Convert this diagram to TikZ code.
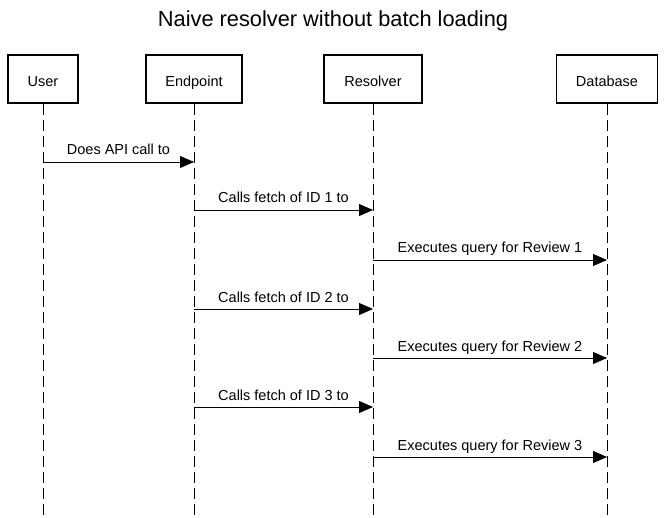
\documentclass[tikz,border=0pt]{standalone}
\usepackage{fontspec}
\setmainfont{Liberation Sans}
\usetikzlibrary{arrows.meta}
\begin{document}
\begin{tikzpicture}[x=1pt,y=-1pt,
  actor/.style={draw=black,line width=1.8pt,minimum width=96pt,minimum height=48pt,inner sep=0pt,text height=15pt,text depth=0pt,font=\fontsize{14.5}{17}\selectfont},
  life/.style={draw=black,line width=0.9pt,dash pattern=on 11pt off 5pt},
  msg/.style={draw=black,line width=0.9pt,-{Triangle[length=14pt,width=12pt]}},
  lbl/.style={font=\fontsize{14.5}{17}\selectfont,anchor=base,yshift=7pt,inner sep=0pt}]
\useasboundingbox (0,0) rectangle (666,518);
\node[font=\fontsize{21.8}{26}\selectfont,anchor=base] (title) at (333,27) {Naive resolver without batch loading};
\node[actor,minimum width=70pt] (user) at (43,79) {User};
\node[actor] (endp) at (194,79) {Endpoint};
\node[actor,minimum width=98pt] (res) at (373,79) {Resolver};
\node[actor,minimum width=101pt] (db) at (607,79) {Database};
\foreach \n/\x in {user/43,endp/194,res/373,db/607}{
  \coordinate (\n end) at (\x,518);
  \draw[life] (\n.south) -- (\n end);
}
\coordinate (u1) at (43,162);  \coordinate (e1) at (194,162);
\coordinate (e2) at (194,210); \coordinate (r2) at (373,210);
\coordinate (r3) at (373,260); \coordinate (d3) at (607,260);
\coordinate (e4) at (194,309); \coordinate (r4) at (373,309);
\coordinate (r5) at (373,358); \coordinate (d5) at (607,358);
\coordinate (e6) at (194,407); \coordinate (r6) at (373,407);
\coordinate (r7) at (373,457); \coordinate (d7) at (607,457);
\draw[msg] (u1) -- node[lbl] {Does API call to} (e1);
\draw[msg] (e2) -- node[lbl] {Calls fetch of ID 1 to} (r2);
\draw[msg] (r3) -- node[lbl] {Executes query for Review 1} (d3);
\draw[msg] (e4) -- node[lbl] {Calls fetch of ID 2 to} (r4);
\draw[msg] (r5) -- node[lbl] {Executes query for Review 2} (d5);
\draw[msg] (e6) -- node[lbl] {Calls fetch of ID 3 to} (r6);
\draw[msg] (r7) -- node[lbl] {Executes query for Review 3} (d7);
\end{tikzpicture}
\end{document}
